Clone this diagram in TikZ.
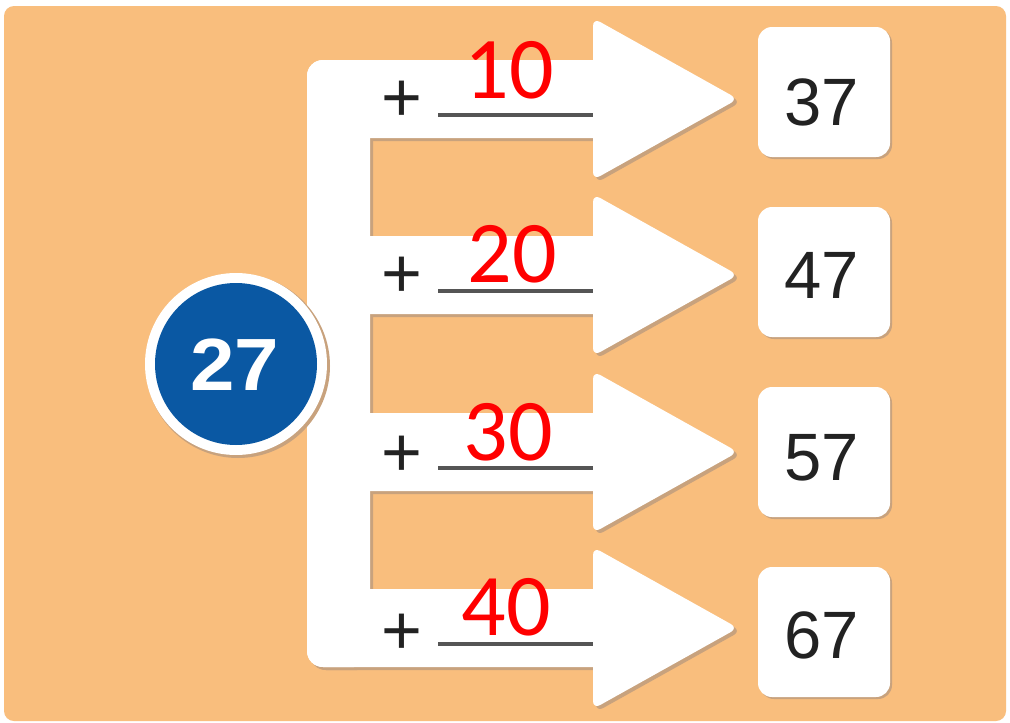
\documentclass[tikz,border=0pt]{standalone}
\usepackage{fontspec}
\setmainfont{Liberation Sans}
\newfontfamily\calib{Carlito}
\definecolor{bgor}{RGB}{249,190,125}
\definecolor{shad}{RGB}{200,162,125}
\definecolor{blu}{RGB}{10,88,163}
\definecolor{ink}{RGB}{34,34,34}
\definecolor{uline}{RGB}{85,85,85}
\definecolor{redtxt}{RGB}{255,0,0}
\tikzset{
  resbox/.style={fill=white, rounded corners=14pt, minimum width=132pt, minimum height=130pt, inner sep=0pt},
  restext/.style={font=\fontsize{67}{70}\selectfont, text=ink, inner sep=0pt, anchor=base},
  plustext/.style={font=\fontsize{70}{72}\selectfont, text=ink, inner sep=0pt, anchor=base},
  redtext/.style={font=\calib\fontsize{88}{90}\selectfont, text=redtxt, inner sep=0pt, anchor=base},
  blank/.style={draw=uline, line width=4.5pt}
}
\begin{document}
\begin{tikzpicture}[x=1pt,y=-1pt]
\useasboundingbox (0,0) rectangle (1010,723);
\fill[white] (0,0) rectangle (1010,723);
\fill[bgor, rounded corners=10pt] (4,6) rectangle (1006,721);
% E-shaped white arrow structure with shadow
\foreach \dx/\col in {3/shad,0/white}{
  \begin{scope}[shift={(\dx,\dx)}]
    \fill[\col, rounded corners=16pt] (307,60) rectangle (370,667);
    \foreach \c in {99,275,452,628}{
      \fill[\col, rounded corners=16pt] (307,\c-39) rectangle (620,\c+39);
      \fill[\col, rounded corners=8pt] (593,\c-81) -- (738,\c) -- (593,\c+81) -- cycle;
    }
  \end{scope}
}
% start circle
\fill[shad] (238,366) circle (92);
\node[circle, fill=white, minimum size=182pt, inner sep=0pt] (ring) at (236,364) {};
\node[circle, fill=blu, minimum size=162pt, inner sep=0pt] (start) at (236,364) {};
\node[font=\bfseries\fontsize{74}{76}\selectfont, text=white, inner sep=0pt, anchor=base, xscale=1.08] (starttxt) at (235,390) {27};
% result boxes
\foreach \i/\by/\ty/\v in {1/92/125/37, 2/272/298/47, 3/452/480/57, 4/632/658/67}{
  \fill[shad, rounded corners=14pt] (760,\by-63) rectangle (892,\by+67);
  \node[resbox] (box\i) at (824,\by) {};
  \node[restext] (res\i) at (822,\ty) {\v};
}
% plus signs, blanks and red answers
\foreach \i/\c/\py/\rx/\ry/\a in {1/99/121/509/98/10, 2/275/297/512/282/20, 3/452/476/508/460/30, 4/628/654/506/635/40}{
  \node[plustext] (plus\i) at (402,\py) {+};
  \coordinate (bl\i) at (438,\c+16);
  \coordinate (br\i) at (593,\c+16);
  \draw[blank] (bl\i) -- (br\i);
  \node[redtext] (ans\i) at (\rx,\ry) {\a};
}
\end{tikzpicture}
\end{document}
